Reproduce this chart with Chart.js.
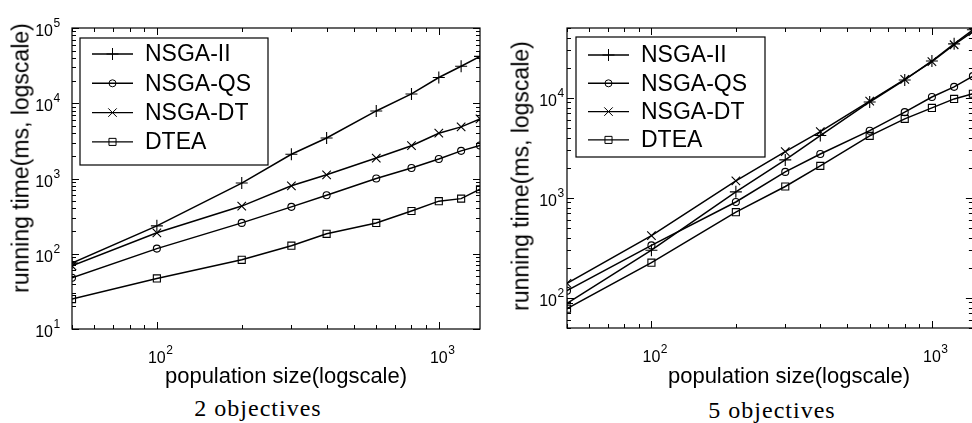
<!DOCTYPE html>
<html lang="en">

<head>
    <meta charset="UTF-8">
    <title>Running time vs population size</title>
    <script src="https://cdn.jsdelivr.net/npm/chart.js"></script>
    <style>
        body {
            margin: 0;
            width: 972px;
            height: 423px;
            overflow: hidden;
            position: relative;
            background: #fff;
            color: #000;
            font-family: 'Liberation Sans', Arial, sans-serif;
        }

        canvas { position: absolute; top: 0; }
        #chartObj2 { left: 0; }
        #chartObj5 { left: 490px; }

        .xtitle, .ytitle, .caption {
            position: absolute;
            white-space: nowrap;
            line-height: 1;
        }
        .xtitle { font-size: 22px; transform: translate(-50%, -50%); }
        .ytitle { font-size: 23px; transform: translate(-50%, -50%) rotate(-90deg); }
        .caption {
            font-family: 'Liberation Serif', 'Times New Roman', serif;
            font-size: 24px;
            letter-spacing: 1px;
            transform: translate(-50%, -50%);
        }
    </style>
</head>

<body>
    <canvas id="chartObj2" width="490" height="380"></canvas>
    <canvas id="chartObj5" width="490" height="380"></canvas>

    <div class="ytitle" style="left:21px; top:158px;">running time(ms, logscale)</div>
    <div class="ytitle" style="left:521px; top:176px;">running time(ms, logscale)</div>
    <div class="xtitle" style="left:286px; top:376px;">population size(logscale)</div>
    <div class="xtitle" style="left:789px; top:376px;">population size(logscale)</div>
    <div class="caption" style="left:258px; top:408px;">2 objectives</div>
    <div class="caption" style="left:772px; top:410px;">5 objectives</div>

    <script>
        // population sizes (x, log scale)
        const popSizes = [50, 100, 200, 300, 400, 600, 800, 1000, 1200, 1400];
        const seriesNames = ['NSGA-II', 'NSGA-QS', 'NSGA-DT', 'DTEA'];

        // running time in ms, 2 objectives
        const nsga2Obj2 = [75, 235, 870, 2100, 3450, 7900, 13300, 22000, 31000, 42000];
        const nsgaqsObj2 = [48, 117, 257, 420, 600, 1000, 1380, 1820, 2330, 2750];
        const nsgadtObj2 = [69, 190, 430, 800, 1120, 1870, 2730, 4000, 4850, 6200];
        const dteaObj2 = [25, 47, 83, 128, 184, 257, 370, 500, 540, 720];

        // running time in ms, 5 objectives
        const nsga2Obj5 = [88, 300, 1150, 2400, 4200, 9100, 15100, 23400, 34700, 48000];
        const nsgaqsObj5 = [118, 335, 910, 1820, 2750, 4700, 7200, 10200, 12900, 16500];
        const nsgadtObj5 = [140, 420, 1480, 2900, 4600, 9300, 15300, 23000, 34000, 46000];
        const dteaObj5 = [78, 225, 720, 1300, 2090, 4170, 6170, 7940, 9770, 11000];

        // labelled ticks
        const xTicks = [100, 1000];
        const yTicksObj2 = [10, 100, 1000, 10000, 100000];
        const yTicksObj5 = [100, 1000, 10000];

        // marker look for each series (same order as seriesNames)
        const markers = [
            { style: 'cross', radius: 6 },
            { style: 'circle', radius: 3.5 },
            { style: 'crossRot', radius: 6 },
            { style: 'rect', radius: 5 }
        ];

        const FONT = '"Liberation Sans", Arial, sans-serif';

        // all 1..9 x 10^k values inside [min, max]
        function logTicks(min, max) {
            const out = [];
            for (let e = Math.floor(Math.log10(min)); e <= Math.ceil(Math.log10(max)); e++) {
                for (let m = 1; m <= 9; m++) {
                    const v = m * Math.pow(10, e);
                    if (v >= min * 0.999 && v <= max * 1.001) out.push({ v: v, major: m === 1 });
                }
            }
            return out;
        }

        function drawMarker(ctx, style, r, x, y) {
            ctx.beginPath();
            if (style === 'cross') {
                ctx.moveTo(x - r, y); ctx.lineTo(x + r, y);
                ctx.moveTo(x, y - r); ctx.lineTo(x, y + r);
            } else if (style === 'crossRot') {
                const d = r * Math.SQRT1_2;
                ctx.moveTo(x - d, y - d); ctx.lineTo(x + d, y + d);
                ctx.moveTo(x - d, y + d); ctx.lineTo(x + d, y - d);
            } else if (style === 'circle') {
                ctx.arc(x, y, r, 0, Math.PI * 2);
            } else {
                const s = r * Math.SQRT1_2;
                ctx.rect(x - s, y - s, 2 * s, 2 * s);
            }
            ctx.stroke();
        }

        // "10" with a raised exponent; anchor = where "10" sits
        function drawPow(ctx, v, x, baseline, align) {
            const exp = String(Math.round(Math.log10(v)));
            ctx.font = '16px ' + FONT;
            const w = ctx.measureText('10').width;
            const left = align === 'center' ? x - w / 2 : x - w;
            ctx.textAlign = 'left';
            ctx.textBaseline = 'alphabetic';
            ctx.fillText('10', left, baseline);
            ctx.font = '12px ' + FONT;
            ctx.fillText(exp, left + w + 0.5, baseline - 9);
        }

        // box, inward ticks on all four sides, tick labels and the legend
        const framePlugin = {
            id: 'frame',
            afterDatasetsDraw(chart, args, opts) {
                const ctx = chart.ctx;
                const a = chart.chartArea;
                const x = chart.scales.x, y = chart.scales.y;
                ctx.save();
                ctx.strokeStyle = '#000';
                ctx.fillStyle = '#000';
                ctx.lineWidth = 1.2;
                ctx.strokeRect(a.left, a.top, a.right - a.left, a.bottom - a.top);

                ctx.beginPath();
                logTicks(x.min, x.max).forEach(t => {
                    const px = Math.round(x.getPixelForValue(t.v)) + 0.5;
                    const len = t.major ? 7 : 4;
                    ctx.moveTo(px, a.bottom); ctx.lineTo(px, a.bottom - len);
                    ctx.moveTo(px, a.top); ctx.lineTo(px, a.top + len);
                });
                logTicks(y.min, y.max).forEach(t => {
                    const py = Math.round(y.getPixelForValue(t.v)) + 0.5;
                    const len = t.major ? 7 : 4;
                    ctx.moveTo(a.left, py); ctx.lineTo(a.left + len, py);
                    ctx.moveTo(a.right, py); ctx.lineTo(a.right - len, py);
                });
                ctx.lineWidth = 1;
                ctx.stroke();

                // tick labels
                x.ticks.forEach(t => {
                    drawPow(ctx, t.value, x.getPixelForValue(t.value), a.bottom + 34, 'center');
                });
                y.ticks.forEach(t => {
                    drawPow(ctx, t.value, a.left - opts.yLabelGap, y.getPixelForValue(t.value) + 8, 'right');
                });

                // legend
                const lg = opts.legend;
                const bx = a.left + lg.dx, by = a.top + lg.dy;
                ctx.fillStyle = '#fff';
                ctx.fillRect(bx, by, lg.w, lg.h);
                ctx.lineWidth = 1.2;
                ctx.strokeRect(bx, by, lg.w, lg.h);
                ctx.font = '23px ' + FONT;
                ctx.textAlign = 'left';
                ctx.textBaseline = 'middle';
                chart.data.datasets.forEach((ds, i) => {
                    const ry = by + lg.row0 + i * lg.rowGap;
                    ctx.lineWidth = 1.4;
                    ctx.beginPath();
                    ctx.moveTo(bx + 12, ry); ctx.lineTo(bx + 53, ry);
                    ctx.stroke();
                    ctx.lineWidth = 1;
                    drawMarker(ctx, ds.pointStyle, ds.pointRadius, bx + 32.5, ry);
                    ctx.fillStyle = '#000';
                    ctx.fillText(ds.label, bx + 65, ry + 1);
                });
                ctx.restore();
            }
        };

        function makeChart(id, series, yMin, yMax, yTicks, layout) {
            const datasets = series.map((vals, i) => ({
                label: seriesNames[i],
                data: popSizes.map((p, j) => ({ x: p, y: vals[j] })),
                borderColor: '#000',
                borderWidth: 1.5,
                tension: 0,
                fill: false,
                pointStyle: markers[i].style,
                pointRadius: markers[i].radius,
                pointBorderColor: '#000',
                pointBackgroundColor: 'rgba(0,0,0,0)',
                pointBorderWidth: 1.1
            }));

            return new Chart(document.getElementById(id), {
                type: 'line',
                data: { datasets: datasets },
                plugins: [framePlugin],
                options: {
                    responsive: false,
                    animation: false,
                    layout: { padding: { top: 28, right: layout.padRight, left: 0, bottom: 0 } },
                    plugins: {
                        legend: { display: false },
                        tooltip: { enabled: false },
                        frame: { legend: layout.legend, yLabelGap: layout.yLabelGap }
                    },
                    scales: {
                        x: {
                            type: 'logarithmic',
                            min: 50,
                            max: 1400,
                            grid: { display: false, drawTicks: false },
                            border: { display: false },
                            afterBuildTicks: s => { s.ticks = xTicks.map(v => ({ value: v })); },
                            afterFit: s => { s.height = layout.xAxisH; },
                            ticks: { display: false }
                        },
                        y: {
                            type: 'logarithmic',
                            min: yMin,
                            max: yMax,
                            grid: { display: false, drawTicks: false },
                            border: { display: false },
                            afterBuildTicks: s => { s.ticks = yTicks.map(v => ({ value: v })); },
                            afterFit: s => { s.width = layout.yAxisW; },
                            ticks: { display: false }
                        }
                    }
                }
            });
        }

        makeChart('chartObj2', [nsga2Obj2, nsgaqsObj2, nsgadtObj2, dteaObj2], 10, 100000, yTicksObj2, {
            padRight: 10, xAxisH: 51, yAxisW: 72, yLabelGap: 19,
            legend: { dx: 8, dy: 10, w: 188, h: 127, row0: 16, rowGap: 29.3 }
        });

        makeChart('chartObj5', [nsga2Obj5, nsgaqsObj5, nsgadtObj5, dteaObj5], 50, 50000, yTicksObj5, {
            padRight: 5, xAxisH: 52, yAxisW: 77, yLabelGap: 10,
            legend: { dx: 9, dy: 9, w: 189, h: 120, row0: 18, rowGap: 28.3 }
        });
    </script>
</body>

</html>
